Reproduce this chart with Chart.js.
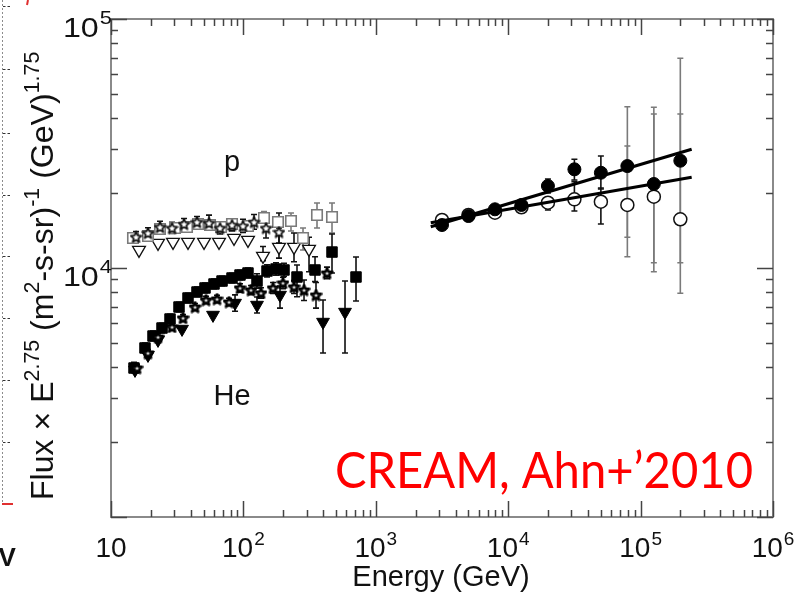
<!DOCTYPE html>
<html><head><meta charset="utf-8">
<script src="https://cdn.jsdelivr.net/npm/chart.js@4.4.1/dist/chart.umd.min.js"></script>
<style>html,body{margin:0;padding:0;background:#fff;}#wrap{width:812px;height:594px;position:relative;}</style>
</head><body><div id="wrap"><canvas id="c" width="812" height="594"></canvas></div>
<script>
// ---------- tick labels ----------
const xTickValues = [10, 100, 1000, 10000, 100000, 1000000];
const xTickLabels = ['10', '10^2', '10^3', '10^4', '10^5', '10^6'];
const yTickValues = [10000, 100000];
const yTickLabels = ['10^4', '10^5'];

// ---------- low-energy proton data ----------
const pSquareE  = [14.66, 19.03, 23.45, 30.44, 37.5, 45.41, 55.95, 67.75, 82.02, 108.3, 143.1, 182.5, 228.8, 282.0, 359.7, 466.9];
const pSquareF  = [13200, 13440, 14340, 14470, 14610, 15020, 14880, 14610, 15020, 14750, 15880, 15300, 15450, 13200, 16330, 16030];
const pSquareLo = [12900, 13100, 13900, 14000, 14150, 14500, 14400, 14150, 14500, 14200, 15150, 14700, 14080, 11810, 14470, 13820];
const pSquareHi = [13500, 13800, 14800, 14950, 15100, 15550, 15400, 15100, 15550, 15300, 16870, 15950, 16630, 14470, 18240, 18240];

const pStarE  = [15.45, 19.03, 23.45, 28.89, 35.61, 44.62, 54.99, 66.59, 82.02, 99.3, 120.3, 148.2, 185.7];
const pStarF  = [13320, 13820, 14610, 14470, 15020, 15300, 15160, 14470, 14880, 14750, 15300, 14470, 13950];
const pStarLo = [12700, 13200, 13900, 13750, 14300, 14550, 14200, 13700, 14100, 13900, 14300, 13200, 12600];
const pStarHi = [14000, 14500, 15400, 15250, 15800, 16100, 16300, 15300, 15700, 15700, 16400, 15900, 16630];

const pTriE  = [16.27, 22.65, 29.4, 38.16, 50.41, 65.43, 84.92, 108.3, 140.6, 185.7, 241.1, 313.0];
const pTriF  = [11810, 12600, 12720, 12720, 12720, 12720, 13200, 12950, 11170, 12140, 12140, 11920];
const pTriLo = [null, null, null, null, null, null, null, null, 10700, 10960, 10600, 9660];
const pTriHi = [null, null, null, null, null, null, null, null, 12200, 14470, 13820, 13280];

// ---------- low-energy helium data ----------
const heSquareE  = [14.92, 18.06, 20.76, 24.28, 27.91, 32.63, 38.16, 44.62, 51.29, 59.98, 68.95, 82.02, 94.26, 108.3, 126.7, 150.8, 176.3, 202.6, 254.0, 347.5, 466.9, 708.8];
const heSquareF  = [3966, 4773, 5331, 5741, 6240, 6972, 7577, 8009, 8312, 8626, 8867, 9116, 9373, 9548, 8867, 9727, 9908, 9817, 9201, 9817, 11590, 9201];
const heSquareLo = [3800, 4560, 5100, 5500, 5980, 6680, 7260, 7680, 7960, 8260, 8490, 8730, 8980, 9140, 8300, 9200, 9350, 9250, 7670, 8820, 9548, 7370];
const heSquareHi = [4180, 5000, 5580, 6000, 6520, 7280, 7920, 8380, 8700, 9020, 9270, 9530, 9800, 9990, 9480, 10300, 10500, 10450, 10280, 11100, 13690, 11070];

const heStarE  = [15.72, 19.03, 22.65, 28.89, 34.99, 43.1, 52.19, 63.19, 77.85, 94.26, 114.1, 135.8, 167.4, 199.1, 241.1, 287.0, 353.5, 428.1];
const heStarF  = [3966, 4556, 5282, 5796, 6298, 6972, 7438, 7507, 7302, 8312, 8159, 7936, 8312, 8705, 8389, 8159, 7790, 9548];
const heStarLo = [3850, 4420, 5120, 5620, 6100, 6750, 7200, 7260, 7050, 8000, 7820, 7560, 7900, 8250, 7900, 7400, 6900, 9050];
const heStarHi = [4090, 4700, 5450, 5980, 6500, 7200, 7690, 7760, 7560, 8640, 8510, 8330, 8750, 9180, 8900, 8950, 8750, 10080];

const heTriE  = [15.18, 19.03, 22.65, 34.39, 58.95, 86.46, 126.7, 189.0, 399.4, 585.4];
const heTriF  = [3894, 4472, 5138, 5689, 6475, 7234, 7102, 7790, 6069, 6657];
const heTriLo = [null, null, null, null, null, 6700, 6600, 6900, 4556, 4556];
const heTriHi = [null, null, null, null, null, 7800, 7650, 8470, 7438, 8867];

// ---------- CREAM high-energy data ----------
const creamE    = [3162, 5012, 7943, 12589, 19953, 31623, 50119, 79433, 125893, 199526];
const creamHeF  = [14880, 16170, 17210, 17910, 21350, 24910, 24130, 25670, 21750, 26970];
const creamHeLo = [null, null, null, null, 20010, 22570, 20760, 11100, 10500, 7913];
const creamHeHi = [null, null, null, null, 22780, 27320, 28180, 44440, 41540, 69540];
const creamPF   = [15590, 16330, 16680, 17530, 18290, 18870, 18460, 17910, 19340, 15690];
const creamPLo  = [null, null, null, null, 17100, 16940, 15020, 13280, 9663, 10500];
const creamPHi  = [null, null, null, null, 18930, 22220, 20960, 30900, 44200, 41540];

// ---------- power-law fits ----------
const fitE   = [2600, 243000];
const fitHeF = [14650, 29980];
const fitPF  = [15200, 23140];

// ---------- annotations (data coordinates) ----------
const labelP  = {text: 'p',  E: 82, F: 26400};
const labelHe = {text: 'He', E: 82, F: 3033};
const creditText = 'CREAM, Ahn+\u20192010';

// ======================================================
const pts = (xs, ys) => xs.map((x, i) => ({x: x, y: ys[i]}));

function makeStar(size, fill, stroke, lw) {
  const c = document.createElement('canvas');
  c.width = size; c.height = size;
  const g = c.getContext('2d');
  const cx = size / 2, cy = size / 2 + 0.5, R = size / 2 - lw / 2, r = R * 0.45;
  g.beginPath();
  for (let k = 0; k < 10; k++) {
    const a = -Math.PI / 2 + k * Math.PI / 5;
    const rr = k % 2 ? r : R;
    const px = cx + rr * Math.cos(a), py = cy + rr * Math.sin(a);
    k ? g.lineTo(px, py) : g.moveTo(px, py);
  }
  g.closePath();
  g.fillStyle = fill; g.fill();
  g.lineWidth = lw; g.strokeStyle = stroke; g.lineJoin = 'round'; g.stroke();
  return c;
}
const starP = makeStar(13, '#ffffff', '#111', 1.7);
const starHe = makeStar(13, '#ffffff', '#000', 2.6);

const GREY = '#7a7a7a';
const datasets = [
  {label: 'He fit', type: 'line', data: pts(fitE, fitHeF), borderColor: '#000', borderWidth: 3.2, pointRadius: 0, showLine: true, fill: false},
  {label: 'p fit',  type: 'line', data: pts(fitE, fitPF),  borderColor: '#000', borderWidth: 3.2, pointRadius: 0, showLine: true, fill: false},
  {label: 'CREAM He', data: pts(creamE, creamHeF), pointStyle: 'circle', pointRadius: 6.5, backgroundColor: '#000', borderColor: '#000', borderWidth: 1,
   errLo: creamHeLo, errHi: creamHeHi, errColor: [null,null,null,null,'#111','#111','#111',GREY,GREY,GREY]},
  {label: 'CREAM p', data: pts(creamE, creamPF), pointStyle: 'circle', pointRadius: 6.5, backgroundColor: '#fff', borderColor: '#111', borderWidth: 1.5,
   errLo: creamPLo, errHi: creamPHi, errColor: [null,null,null,null,'#111','#111','#111',GREY,GREY,GREY]},
  {label: 'p stars', data: pts(pStarE, pStarF), pointStyle: starP, errLo: pStarLo, errHi: pStarHi, errColor: '#111'},
  {label: 'p squares', data: pts(pSquareE, pSquareF), pointStyle: 'rect', pointRadius: 7.4, backgroundColor: '#fff', borderColor: GREY, borderWidth: 1.6,
   errLo: pSquareLo, errHi: pSquareHi, errColor: GREY},
  {label: 'p triangles', data: pts(pTriE, pTriF), pointStyle: 'triangle', rotation: 180, pointRadius: 7.4, backgroundColor: '#fff', borderColor: '#111', borderWidth: 1.3,
   errLo: pTriLo, errHi: pTriHi, errColor: '#111'},
  {label: 'He stars', data: pts(heStarE, heStarF), pointStyle: starHe, errLo: heStarLo, errHi: heStarHi, errColor: '#111'},
  {label: 'He triangles', data: pts(heTriE, heTriF), pointStyle: 'triangle', rotation: 180, pointRadius: 7.4, backgroundColor: '#000', borderColor: '#000', borderWidth: 1,
   errLo: heTriLo, errHi: heTriHi, errColor: '#111'},
  {label: 'He squares', data: pts(heSquareE, heSquareF), pointStyle: 'rect', pointRadius: 7.4, backgroundColor: '#000', borderColor: '#000', borderWidth: 1,
   errLo: heSquareLo, errHi: heSquareHi, errColor: '#111'}
];

const SANS = '"Liberation Sans", Arial, Helvetica, sans-serif';

function drawSupLabel(ctx, text, x, y, align, baseSize, supSize, supRaise, sx) {
  sx = sx || 1;
  const parts = text.split('^');
  const base = parts[0], sup = parts[1] || '';
  ctx.font = baseSize + 'px ' + SANS;
  const wb = ctx.measureText(base).width * sx;
  ctx.font = supSize + 'px ' + SANS;
  const ws = sup ? (ctx.measureText(sup).width + 1) * sx : 0;
  const w = wb + ws;
  let x0 = align === 'center' ? x - w / 2 : (align === 'right' ? x - w : x);
  ctx.save();
  ctx.translate(x0, y); ctx.scale(sx, 1);
  ctx.textAlign = 'left'; ctx.textBaseline = 'alphabetic';
  ctx.font = baseSize + 'px ' + SANS;
  ctx.fillText(base, 0, 0);
  if (sup) { ctx.font = supSize + 'px ' + SANS; ctx.fillText(sup, wb / sx + 1, -supRaise); }
  ctx.restore();
}

const decor = {
  id: 'decor',
  beforeDraw(chart) {
    // remnants of the surrounding slide at the left edge
    const ctx = chart.ctx;
    ctx.save();
    ctx.strokeStyle = '#8c8c8c'; ctx.lineWidth = 1; ctx.setLineDash([2, 2]);
    ctx.beginPath(); ctx.moveTo(2.5, 0); ctx.lineTo(2.5, 504); ctx.stroke();
    ctx.setLineDash([2.5, 2]);
    ctx.strokeStyle = '#333';
    [6, 69, 133, 195, 256, 318, 380, 442].forEach(y => { ctx.beginPath(); ctx.moveTo(3, y + 0.5); ctx.lineTo(12, y + 0.5); ctx.stroke(); });
    ctx.setLineDash([]);
    ctx.strokeStyle = '#e03030'; ctx.lineWidth = 2;
    ctx.beginPath(); ctx.moveTo(2, 504); ctx.lineTo(13, 504); ctx.stroke();
    ctx.beginPath(); ctx.moveTo(28, 0); ctx.lineTo(27, 5); ctx.stroke();
    ctx.fillStyle = '#111'; ctx.font = 'bold 26px ' + SANS; ctx.textAlign = 'left'; ctx.textBaseline = 'alphabetic';
    ctx.fillText('eV', -16, 566);
    ctx.restore();
  },
  beforeDatasetsDraw(chart) {
    const ctx = chart.ctx, xs = chart.scales.x, ys = chart.scales.y;
    ctx.save();
    chart.data.datasets.forEach((ds) => {
      if (!ds.errLo) return;
      ds.data.forEach((p, i) => {
        const lo = ds.errLo[i], hi = ds.errHi[i];
        if (lo == null || hi == null) return;
        const col = Array.isArray(ds.errColor) ? ds.errColor[i] : ds.errColor;
        const px = xs.getPixelForValue(p.x), y1 = ys.getPixelForValue(lo), y2 = ys.getPixelForValue(hi);
        ctx.strokeStyle = col || '#111'; ctx.lineWidth = 1.6;
        ctx.beginPath();
        ctx.moveTo(px, y1); ctx.lineTo(px, y2);
        ctx.moveTo(px - 3, y1); ctx.lineTo(px + 3, y1);
        ctx.moveTo(px - 3, y2); ctx.lineTo(px + 3, y2);
        ctx.stroke();
      });
    });
    ctx.restore();
  },
  afterDatasetsDraw(chart) {
    const ctx = chart.ctx, xs = chart.scales.x, ys = chart.scales.y, a = chart.chartArea;
    ctx.save();
    // frame
    ctx.strokeStyle = '#8a8a8a'; ctx.lineWidth = 2;
    ctx.strokeRect(a.left, a.top, a.right - a.left, a.bottom - a.top);
    // ticks
    ctx.strokeStyle = '#444'; ctx.lineWidth = 1.5;
    ctx.beginPath();
    for (let d = 1; d <= 6; d++) {
      for (let m = 1; m <= 9; m++) {
        const v = m * Math.pow(10, d);
        if (v > 1e6) break;
        const px = Math.round(xs.getPixelForValue(v)) + 0.5;
        const L = m === 1 ? 16 : 7;
        ctx.moveTo(px, a.bottom); ctx.lineTo(px, a.bottom - L);
        ctx.moveTo(px, a.top); ctx.lineTo(px, a.top + L);
      }
    }
    for (let d = 3; d <= 5; d++) {
      for (let m = 1; m <= 9; m++) {
        const v = m * Math.pow(10, d);
        if (v > 1e5) break;
        const py = Math.round(ys.getPixelForValue(v)) + 0.5;
        const L = m === 1 ? 16 : 7;
        ctx.moveTo(a.left, py); ctx.lineTo(a.left + L, py);
        ctx.moveTo(a.right, py); ctx.lineTo(a.right - L, py);
      }
    }
    ctx.stroke();
    // tick labels
    ctx.fillStyle = '#111';
    xTickValues.forEach((v, i) => {
      drawSupLabel(ctx, xTickLabels[i], xs.getPixelForValue(v), a.bottom + 40, 'center', 28, 19, 12, 1);
    });
    yTickValues.forEach((v, i) => {
      drawSupLabel(ctx, yTickLabels[i], a.left + 1, ys.getPixelForValue(v) + 18, 'right', 28, 19, 13, 1.15);
    });
    // x title
    ctx.font = '29px ' + SANS; ctx.textAlign = 'center'; ctx.textBaseline = 'alphabetic';
    ctx.fillText('Energy (GeV)', 441, 586);
    // y title with superscripts
    const pieces = [['Flux \u00d7 E', 0], ['2.75', 1], [' (m', 0], ['2', 1], ['-s-sr)', 0], ['-1', 1], [' (GeV)', 0], ['1.75', 1]];
    const B = 27, S = 18;
    let total = 0;
    pieces.forEach(p => { ctx.font = (p[1] ? S : B) + 'px ' + SANS; total += ctx.measureText(p[0]).width; });
    const scale = 448 / total;
    ctx.save();
    ctx.translate(53, 500); ctx.rotate(-Math.PI / 2);
    ctx.textAlign = 'left';
    let cx = 0;
    pieces.forEach(p => {
      ctx.font = ((p[1] ? S : B) * scale).toFixed(1) + 'px ' + SANS;
      ctx.fillText(p[0], cx, p[1] ? -12 * scale : 0);
      cx += ctx.measureText(p[0]).width;
    });
    ctx.restore();
    // in-plot labels
    ctx.font = '29px ' + SANS; ctx.textAlign = 'center'; ctx.textBaseline = 'middle';
    [labelP, labelHe].forEach(l => ctx.fillText(l.text, xs.getPixelForValue(l.E), ys.getPixelForValue(l.F)));
    // credit
    ctx.fillStyle = '#ff0000';
    ctx.font = '51px Lato, "Open Sans", sans-serif';
    ctx.textAlign = 'left'; ctx.textBaseline = 'alphabetic';
    const cw = ctx.measureText(creditText).width;
    ctx.save();
    ctx.translate(335, 488); ctx.scale(418 / cw, 1);
    ctx.fillText(creditText, 0, 0);
    ctx.restore();
    ctx.restore();
  }
};

new Chart(document.getElementById('c'), {
  type: 'scatter',
  data: {datasets: datasets},
  options: {
    responsive: false, devicePixelRatio: 1, animation: false,
    layout: {padding: {left: 111, right: 39, top: 19, bottom: 77}},
    plugins: {legend: {display: false}, tooltip: {enabled: false}},
    scales: {
      x: {type: 'logarithmic', min: 10, max: 1000000, display: false},
      y: {type: 'logarithmic', min: 1000, max: 100000, display: false}
    }
  },
  plugins: [decor]
});
</script></body></html>
